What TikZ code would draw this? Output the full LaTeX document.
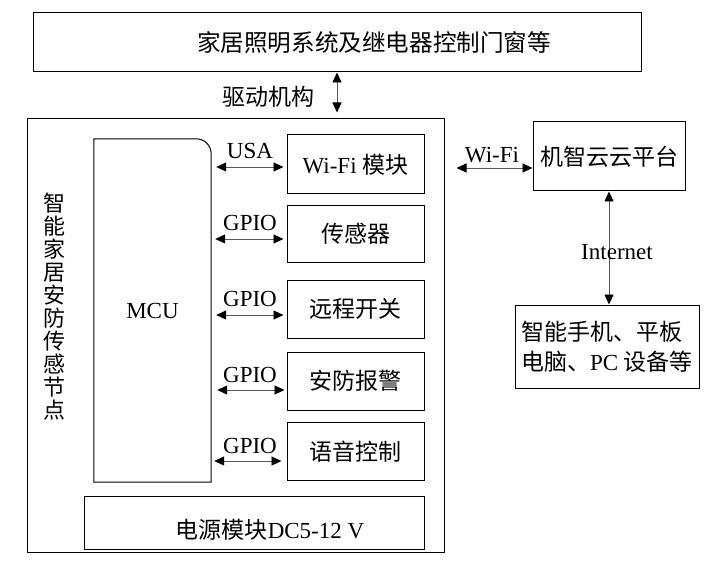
\documentclass[tikz,border=0pt]{standalone}
\usepackage{fontspec}
\setmainfont{Liberation Serif}
\newfontfamily\cjk{Noto Sans CJK SC}
\usetikzlibrary{arrows.meta}

\begin{document}
\begin{tikzpicture}[
                    x=1pt, y=-1pt,
                    box style/.style={
                        draw,
                        line width=1pt,
                        inner sep=0pt,
                        font=\fontsize{23}{28}\selectfont
                    },
                    text style/.style={
                        inner sep=0pt,
                        font=\fontsize{23}{28}\selectfont
                    },
                    link style/.style={
                        draw=black!65,
                        line width=0.9pt,
                        >={Triangle[length=10pt,width=9pt,color=black]},
                        <->
                    }
                ]
    \useasboundingbox (0,0) rectangle (721,575);

    % actuators on top
    \node[box style, minimum width=608pt, minimum height=59pt] (lamp) at (337,42.5) {};
    \node[text style, font=\fontsize{23.6}{30}\selectfont\cjk] (lamptext) at (374,43) {家居照明系统及继电器控制门窗等};

    % sensor node frame
    \node[box style, minimum width=417pt, minimum height=433pt] (outer) at (235.5,335.5) {};
    \node[text style, align=center, font=\fontsize{22}{23}\selectfont\cjk] (outertext) at (54,307)
        {智\\能\\家\\居\\安\\防\\传\\感\\节\\点};

    % MCU with one rounded corner
    \node[text style, minimum width=117pt, minimum height=343pt] (mcu) at (152.5,310.5) {MCU};
    \draw[line width=1pt] (mcu.south west) -- (mcu.north west) -- ([xshift=-15pt]mcu.north east)
        arc[start angle=-90, end angle=0, radius=15] -- (mcu.south east) -- cycle;

    % modules
    \node[box style, minimum width=137pt, minimum height=59pt] (wifi) at (355.5,164.5) {Wi-Fi {\cjk 模块}};
    \node[box style, minimum width=137pt, minimum height=57pt, font=\fontsize{23}{28}\selectfont\cjk] (sensor) at (355.5,234) {传感器};
    \node[box style, minimum width=137pt, minimum height=58pt, font=\fontsize{23}{28}\selectfont\cjk] (switch) at (355.5,309) {远程开关};
    \node[box style, minimum width=137pt, minimum height=58pt, font=\fontsize{23}{28}\selectfont\cjk] (alarm) at (355.5,381) {安防报警};
    \node[box style, minimum width=137pt, minimum height=58pt, font=\fontsize{23}{28}\selectfont\cjk] (voice) at (355.5,451.5) {语音控制};

    % power
    \node[box style, minimum width=340pt, minimum height=53pt] (power) at (254,522.5) {};
    \node[text style] (powertext) at (270,530) {{\cjk 电源模块}DC5-12 V};

    % cloud side
    \node[box style, minimum width=152pt, minimum height=69pt, font=\fontsize{23}{28}\selectfont\cjk] (cloud) at (609,156.5) {机智云云平台};
    \node[box style, minimum width=184pt, minimum height=83pt, align=left, font=\fontsize{23}{30}\selectfont] (phone) at (607,346.5)
        {{\cjk 智能手机、平板}\\{\cjk 电脑、}PC {\cjk 设备等}};

    % links
    \draw[link style, shorten >=6pt] (lamp.south) -- (lamp.south |- outer.north);
    \node[text style, font=\fontsize{23}{28}\selectfont\cjk] (drivetext) at (268,97) {驱动机构};

    \draw[link style, shorten <=5pt, shorten >=3pt] ([yshift=-2.5pt]mcu.east |- wifi.west) -- ([yshift=-2.5pt]wifi.west);
    \draw[link style, shorten <=4pt, shorten >=3pt] ([yshift=-5pt]mcu.east |- sensor.west) -- ([yshift=-5pt]sensor.west);
    \draw[link style, shorten <=5pt, shorten >=3pt] ([yshift=-6pt]mcu.east |- switch.west) -- ([yshift=-6pt]switch.west);
    \draw[link style, shorten <=6pt, shorten >=2pt] ([yshift=-9pt]mcu.east |- alarm.west) -- ([yshift=-9pt]alarm.west);
    \draw[link style, shorten <=3pt, shorten >=5pt] ([yshift=-9.5pt]mcu.east |- voice.west) -- ([yshift=-9.5pt]voice.west);

    \node[text style] (usa) at (250,151) {USA};
    \node[text style] (gpio1) at (250,223) {GPIO};
    \node[text style] (gpio2) at (250,299) {GPIO};
    \node[text style] (gpio3) at (250,375) {GPIO};
    \node[text style] (gpio4) at (250,446) {GPIO};

    \draw[link style, shorten <=12pt] ([yshift=-11.5pt]cloud.west -| outer.east) -- ([yshift=-11.5pt]cloud.west);
    \node[text style] (wifitext) at (492,155) {Wi-Fi};

    \draw[link style] (cloud.south) -- (cloud.south |- phone.north);
    \node[text style] (nettext) at (617,252) {Internet};
\end{tikzpicture}
\end{document}
